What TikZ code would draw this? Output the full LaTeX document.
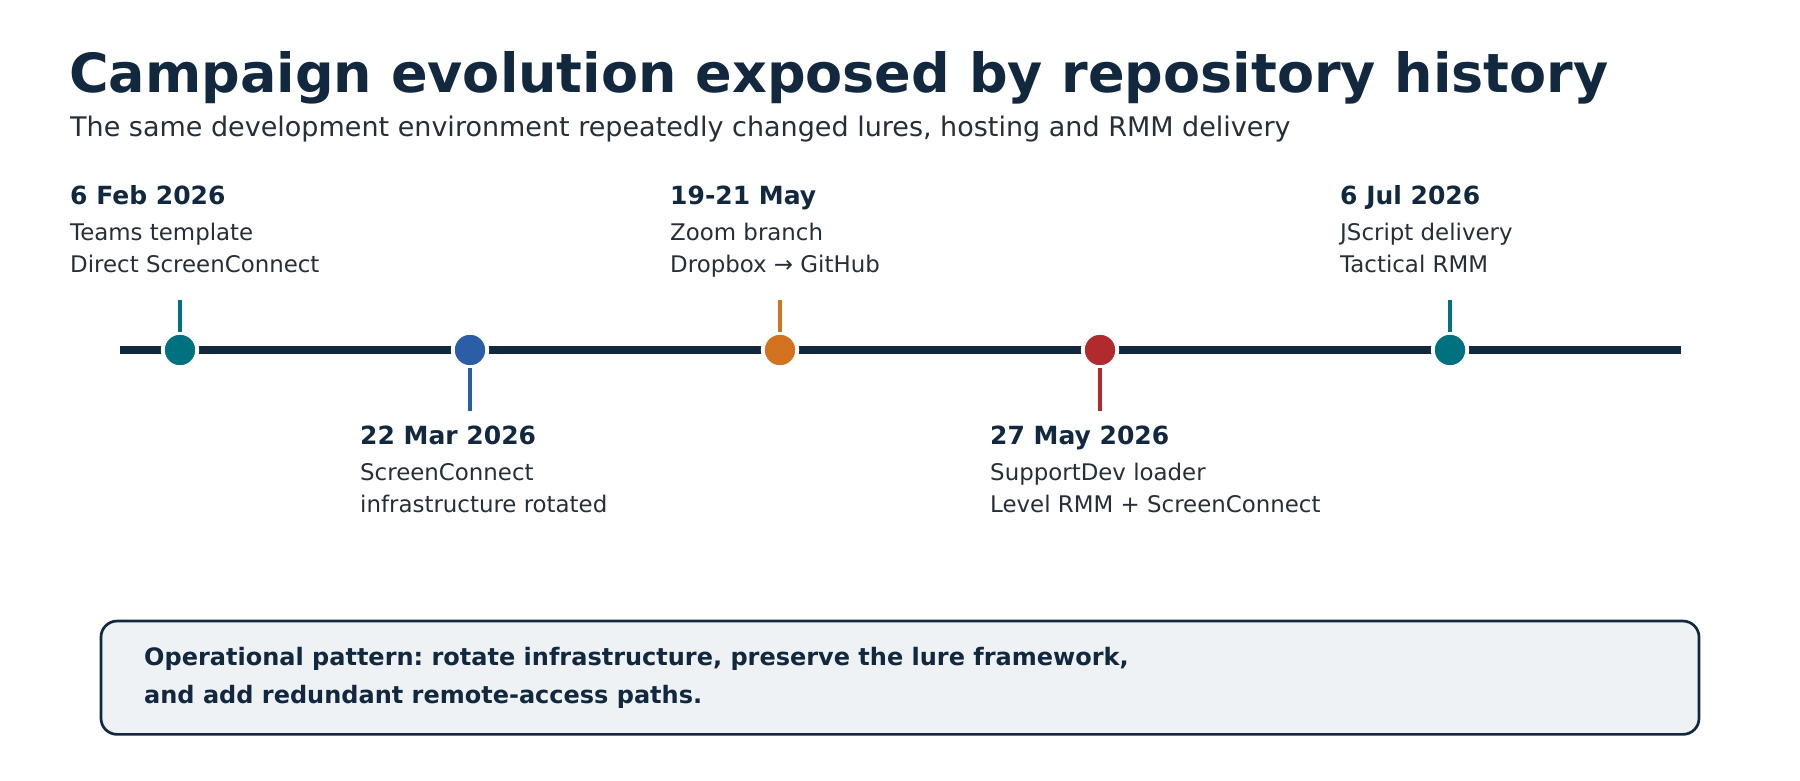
\documentclass[tikz,border=0pt]{standalone}
\usepackage{fontspec}
\setmainfont{DejaVu Sans}
\frenchspacing
\definecolor{navy}{HTML}{12283F}
\definecolor{slate}{HTML}{262F38}
\definecolor{tealc}{HTML}{00717F}
\definecolor{bluec}{HTML}{2B5EA6}
\definecolor{orangec}{HTML}{D3731F}
\definecolor{redc}{HTML}{B02A2E}
\definecolor{notefill}{HTML}{EEF2F5}
\tikzset{
  titletext/.style={anchor=base west, inner sep=0pt, text=navy, font=\bfseries\fontsize{54}{64}\selectfont},
  subtext/.style={anchor=base west, inner sep=0pt, text=slate, font=\fontsize{27}{32}\selectfont},
  datetext/.style={anchor=base west, inner sep=0pt, text=navy, font=\bfseries\fontsize{25}{29}\selectfont},
  desctext/.style={anchor=base west, inner sep=0pt, text=slate, font=\fontsize{22.9}{26}\selectfont},
  notetext/.style={anchor=base west, inner sep=0pt, text=navy, font=\bfseries\fontsize{24}{29}\selectfont},
  dot/.style={circle, minimum size=34.4pt, inner sep=0pt, draw=white, line width=3.8pt, outer sep=1pt},
  ticker/.style={line width=4pt},
  axis/.style={navy, line width=7.3pt},
  notebox/.style={draw=navy, fill=notefill, line width=2.7pt, rounded corners=16pt, minimum width=1598pt, minimum height=113.3pt, inner sep=0pt}
}
\begin{document}
\begin{tikzpicture}[x=1pt,y=-1pt]
\useasboundingbox (0,0) rectangle (1800,780);
\fill[white] (0,0) rectangle (1800,780);

\node[titletext] (title) at (69,92) {Campaign evolution exposed by repository history};
\node[subtext] (subtitle) at (70,136) {The same development environment repeatedly changed lures, hosting and RMM delivery};

% axis
\coordinate (axL) at (120,350);
\coordinate (axR) at (1681,350);
\draw[axis] (axL) -- (axR);

% dots
\node[dot, fill=tealc] (c1) at (180,350) {};
\node[dot, fill=bluec] (c2) at (470,350) {};
\node[dot, fill=orangec] (c3) at (780,350) {};
\node[dot, fill=redc] (c4) at (1100,350) {};
\node[dot, fill=tealc] (c5) at (1450,350) {};

% ticks
\coordinate (t1) at (180,300);
\coordinate (t2) at (470,411);
\coordinate (t3) at (780,300);
\coordinate (t4) at (1100,411);
\coordinate (t5) at (1450,300);
\draw[ticker, tealc] (t1) -- (c1.north);
\draw[ticker, bluec] (c2.south) -- (t2);
\draw[ticker, orangec] (t3) -- (c3.north);
\draw[ticker, redc] (c4.south) -- (t4);
\draw[ticker, tealc] (t5) -- (c5.north);

% upper labels
\node[datetext] (d1) at (70,204) {6 Feb 2026};
\node[desctext] (d1a) at (70,240) {Teams template};
\node[desctext] (d1b) at (70,272) {Direct ScreenConnect};

\node[datetext] (d3) at (670,204) {19-21 May};
\node[desctext] (d3a) at (670,240) {Zoom branch};
\node[desctext] (d3b) at (670,272) {Dropbox → GitHub};

\node[datetext] (d5) at (1340,204) {6 Jul 2026};
\node[desctext] (d5a) at (1340,240) {JScript delivery};
\node[desctext] (d5b) at (1340,272) {Tactical RMM};

% lower labels
\node[datetext] (d2) at (360,444) {22 Mar 2026};
\node[desctext] (d2a) at (360,480) {ScreenConnect};
\node[desctext] (d2b) at (360,512) {infrastructure rotated};

\node[datetext] (d4) at (990,444) {27 May 2026};
\node[desctext] (d4a) at (990,480) {SupportDev loader};
\node[desctext] (d4b) at (990,512) {Level RMM + ScreenConnect};

% note
\node[notebox] (note) at (900,677.7) {};
\node[notetext] (n1) at (144,665) {Operational pattern: rotate infrastructure, preserve the lure framework,};
\node[notetext] (n2) at (144,703) {and add redundant remote-access paths.};
\end{tikzpicture}
\end{document}
